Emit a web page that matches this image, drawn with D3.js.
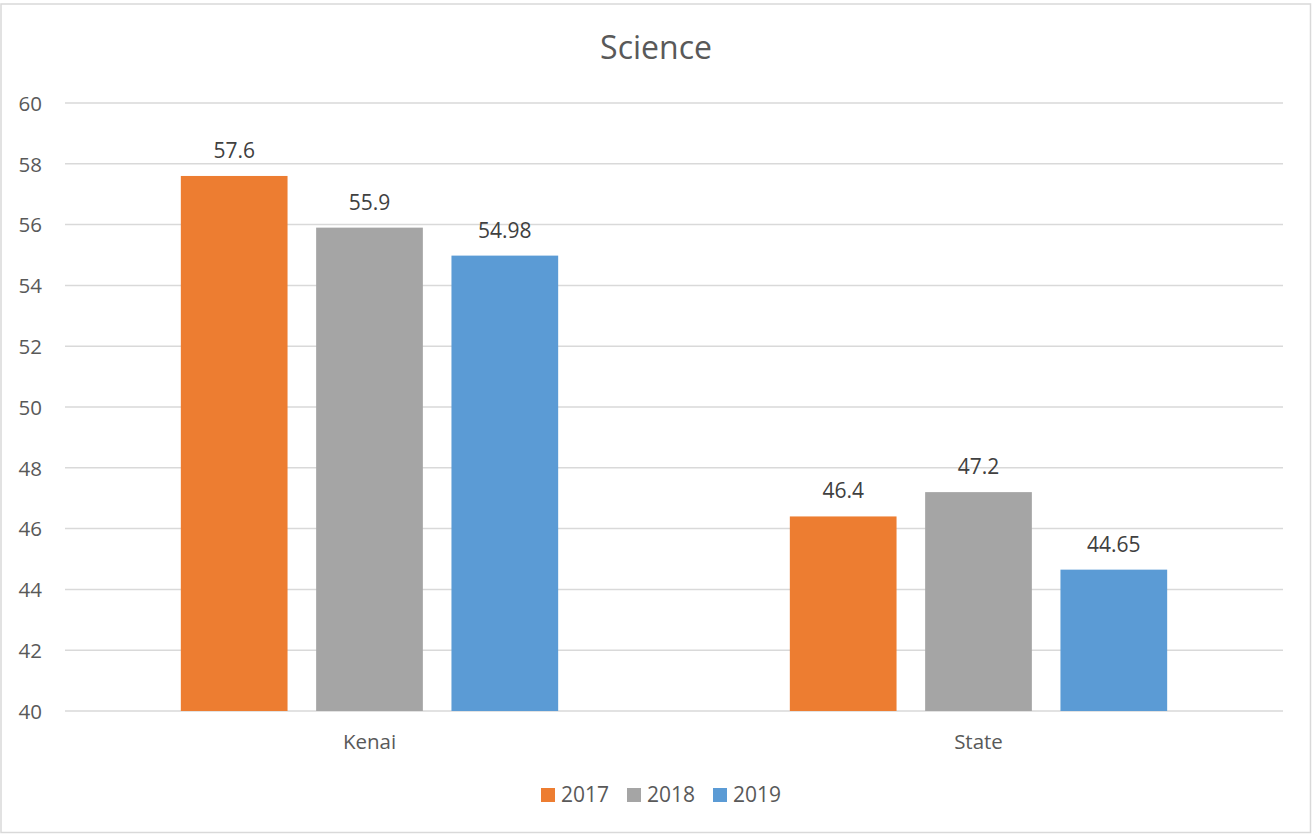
<!DOCTYPE html>
<html>
<head>
<meta charset="utf-8">
<script src="https://cdn.jsdelivr.net/npm/d3@7"></script>
<style>
  html, body { margin: 0; padding: 0; background: #fff; }
  svg { display: block; }
  text { font-family: "Open Sans", "Noto Sans", sans-serif; }
</style>
</head>
<body>
<svg id="chart" width="1312" height="834"></svg>
<script>
const title = "Science";
const categories = ["Kenai", "State"];
const seriesNames = ["2017", "2018", "2019"];
const values2017 = [57.6, 46.4];
const values2018 = [55.9, 47.2];
const values2019 = [54.98, 44.65];
const yTicks = [40, 42, 44, 46, 48, 50, 52, 54, 56, 58, 60];
const colors = ["#ED7D31", "#A5A5A5", "#5B9BD5"];

const seriesValues = [values2017, values2018, values2019];

const svg = d3.select("#chart");
const W = 1312, H = 834;

// chart border
svg.append("rect")
  .attr("x", 1).attr("y", 4).attr("width", W - 2.5).attr("height", H - 5.5)
  .attr("fill", "#fff").attr("stroke", "#d9d9d9").attr("stroke-width", 1.5);

const plot = { left: 65, right: 1283, top: 103, bottom: 711 };

const y = d3.scaleLinear().domain([40, 60]).range([plot.bottom, plot.top]);
const x0 = d3.scaleBand().domain(categories).range([plot.left, plot.right]).padding(0);
const x1 = d3.scaleBand().domain(seriesNames).range([0, x0.bandwidth()])
  .paddingInner(0.2114).paddingOuter(0.856);

// title
svg.append("text")
  .attr("x", 656).attr("y", 59)
  .attr("text-anchor", "middle")
  .attr("font-size", 32)
  .attr("fill", "#595959")
  .text(title);

// gridlines
svg.append("g").selectAll("line").data(yTicks).join("line")
  .attr("x1", plot.left).attr("x2", plot.right)
  .attr("y1", d => y(d)).attr("y2", d => y(d))
  .attr("stroke", "#d9d9d9").attr("stroke-width", 1.5);

// y axis labels
const yAxis = d3.axisLeft(y).tickValues(yTicks).tickSize(0).tickPadding(0);
const yg = svg.append("g").attr("transform", `translate(${42},0)`).call(yAxis);
yg.select(".domain").remove();
yg.selectAll("text")
  .attr("font-size", 20.5)
  .attr("fill", "#595959")
  .attr("font-family", "\"Open Sans\", sans-serif")
  .attr("dy", "0.36em");

// bars
const groups = svg.append("g").selectAll("g").data(categories).join("g")
  .attr("transform", d => `translate(${x0(d)},0)`);

groups.each(function(cat, ci) {
  const g = d3.select(this);
  seriesNames.forEach((s, si) => {
    const v = seriesValues[si][ci];
    g.append("rect")
      .attr("x", x1(s))
      .attr("y", y(v))
      .attr("width", x1.bandwidth())
      .attr("height", y(40) - y(v))
      .attr("fill", colors[si]);
    g.append("text")
      .attr("x", x1(s) + x1.bandwidth() / 2)
      .attr("y", y(v) - 18)
      .attr("text-anchor", "middle")
      .attr("font-size", 21)
      .attr("fill", "#404040")
      .text(String(v));
  });
});

// category axis labels
const xAxis = d3.axisBottom(x0).tickSize(0).tickPadding(0);
const xg = svg.append("g").attr("transform", `translate(0,${plot.bottom})`).call(xAxis);
xg.select(".domain").remove();
xg.selectAll("text")
  .attr("font-size", 20.5)
  .attr("fill", "#595959")
  .attr("font-family", "\"Open Sans\", sans-serif")
  .attr("dy", null)
  .attr("y", 38);

// legend
const legendX = [541, 627, 713];
const legend = svg.append("g");
seriesNames.forEach((s, i) => {
  legend.append("rect")
    .attr("x", legendX[i]).attr("y", 788)
    .attr("width", 14).attr("height", 14)
    .attr("fill", colors[i]);
  legend.append("text")
    .attr("x", legendX[i] + 20).attr("y", 802)
    .attr("font-size", 21)
    .attr("fill", "#595959")
    .text(s);
});
</script>
</body>
</html>
